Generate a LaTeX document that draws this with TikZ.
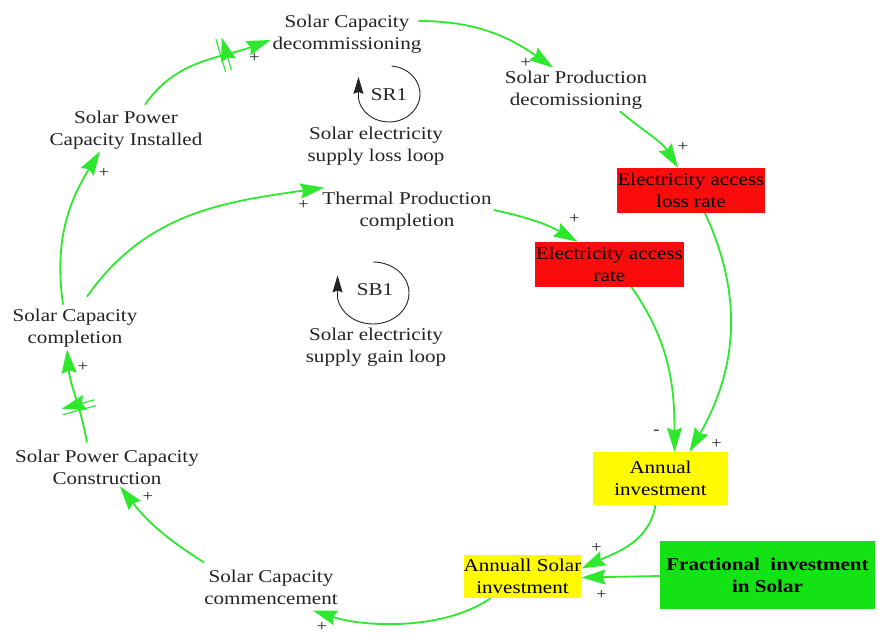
\documentclass[tikz,border=0pt]{standalone}
\usepackage{fontspec}
\setmainfont{Liberation Serif}[FakeStretch=1.17]
\usetikzlibrary{arrows.meta,decorations.markings}

\definecolor{linkgreen}{RGB}{45,232,45}
\definecolor{boxred}{RGB}{250,12,12}
\definecolor{boxyellow}{RGB}{255,250,0}
\definecolor{boxgreen}{RGB}{20,226,20}
\definecolor{inkgray}{RGB}{35,35,35}

\begin{document}
\begin{tikzpicture}[x=1pt,y=1pt,
  var/.style={align=center, font=\fontsize{18}{22}\selectfont, inner sep=2pt, text=inkgray},
  box/.style={var, inner sep=0pt, text=black},
  link/.style={draw=linkgreen, line width=1.8pt, -{Stealth[length=24pt,width=15pt,inset=3pt]}},
  pol/.style={font=\fontsize{16}{16}\selectfont, inner sep=0pt, text=inkgray},
  delay/.style={postaction={decorate, decoration={markings,
      mark=at position #1 with {\draw[linkgreen, line width=1.2pt]
        (-3pt,-17pt) -- (-3pt,17pt) (3pt,-17pt) -- (3pt,17pt);}}}},
  loopsym/.style={draw=inkgray, line width=0.9pt, -{Stealth[length=17pt,width=10pt,inset=2pt]}},
]
\useasboundingbox (0,0) rectangle (879,634);

% variables
\node[var] (dec)   at (347,600) {Solar Capacity\\decommissioning};
\node[var] (prod)  at (576,544) {Solar Production\\decomissioning};
\node[var] (inst)  at (126,504) {Solar Power\\Capacity Installed};
\node[var] (therm) at (407,423) {Thermal Production\\completion};
\node[var] (comp)  at (75,306)  {Solar Capacity\\completion};
\node[var] (cons)  at (107,167) {Solar Power Capacity\\Construction};
\node[var] (comm)  at (271,47)  {Solar Capacity\\commencement};

\node[box, fill=boxred, minimum width=148pt, minimum height=45pt] (loss) at (691,443.5) {Electricity access\\loss rate};
\node[box, fill=boxred, minimum width=149pt, minimum height=45pt] (rate) at (609.5,369.5) {Electricity access\\rate};
\node[box, fill=boxyellow, minimum width=135pt, minimum height=53pt] (annual) at (660.5,155.5) {Annual\\investment};
\node[box, fill=boxyellow, minimum width=117pt, minimum height=43pt] (asolar) at (522.5,57.5) {Annuall Solar\\investment};
\node[box, fill=boxgreen, minimum width=215pt, minimum height=68pt, font=\fontsize{18}{22}\selectfont\bfseries] (frac) at (767.5,59) {Fractional\ \ investment\\in Solar};

% loop identifiers
\node[var] (sr1) at (389,539) {SR1};
\node[var] (sb1) at (375,344) {SB1};
\node[var] (sr1lab) at (376,488) {Solar electricity\\supply loss loop};
\node[var] (sb1lab) at (376,287) {Solar electricity\\supply gain loop};
\coordinate (sr1c) at (389,540);
\coordinate (sb1c) at (373,341);
\draw[loopsym] ([shift={(85:31pt and 28pt)}]sr1c)
  arc[start angle=85, end angle=-170, x radius=31pt, y radius=28pt] -- ++(0,22pt);
\draw[loopsym] ([shift={(90:36pt and 31pt)}]sb1c)
  arc[start angle=90, end angle=-170, x radius=36pt, y radius=31pt] -- ++(0,23pt);

% causal links
\draw[link, delay=0.66] ([xshift=19pt,yshift=4pt]inst.north) to[out=55,in=200]
  node[pol, pos=1, xshift=-16pt, yshift=-18pt] {+} ([yshift=-6pt]dec.west);
\draw[link] ([xshift=-5pt,yshift=13pt]dec.east) to[out=0,in=145]
  node[pol, pos=1, xshift=-27pt, yshift=5pt] {+} ([xshift=-23pt,yshift=1pt]prod.north);
\draw[link] ([xshift=44pt]prod.south) to[out=-40,in=122]
  node[pol, pos=1, xshift=5pt, yshift=21pt] {+} ([xshift=-13pt]loss.north);
\draw[link] ([yshift=1pt]therm.east) to[out=-12,in=150]
  node[pol, pos=1, xshift=-3pt, yshift=23pt] {+} ([xshift=-32pt]rate.north);
\draw[link] ([xshift=22pt]rate.south) to[out=-55,in=90]
  node[pol, pos=1, xshift=-18pt, yshift=19pt] {-} ([xshift=14pt]annual.north);
\draw[link] ([xshift=14pt]loss.south) to[out=-65,in=60]
  node[pol, pos=1, xshift=27pt, yshift=8pt] {+} ([xshift=29pt]annual.north);
\draw[link] ([xshift=-5pt]annual.south) to[out=-100,in=25]
  node[pol, pos=1, xshift=15pt, yshift=21pt] {+} ([yshift=8pt]asolar.east);
\draw[link] ([yshift=-1pt]frac.west) --
  node[pol, pos=1, xshift=20pt, yshift=-17pt] {+} ([yshift=-1pt]asolar.east);
\draw[link] ([xshift=-32pt]asolar.south) to[out=-145,in=-18, looseness=0.8]
  node[pol, pos=1, xshift=9pt, yshift=-16pt] {+} ([xshift=42pt,yshift=-4pt]comm.south);
\draw[link] ([shift={(2pt,5pt)}]comm.north west) to[out=148,in=-52]
  node[pol, pos=1, xshift=28pt, yshift=-10pt] {+} ([xshift=13pt]cons.south);
\draw[link, delay=0.38] ([xshift=-20pt,yshift=5pt]cons.north) to[out=100,in=-85]
  node[pol, pos=1, xshift=16pt, yshift=-18pt] {+} ([xshift=-8pt]comp.south);
\draw[link] ([xshift=-12pt,yshift=2pt]comp.north) to[out=98,in=-122]
  node[pol, pos=1, xshift=4pt, yshift=-22pt] {+} ([xshift=-26pt]inst.south);
\draw[link] ([xshift=12pt,yshift=10pt]comp.north) to[out=55,in=188]
  node[pol, pos=1, xshift=-21pt, yshift=-17pt] {+} ([shift={(4pt,2pt)}]therm.north west);
\end{tikzpicture}
\end{document}
